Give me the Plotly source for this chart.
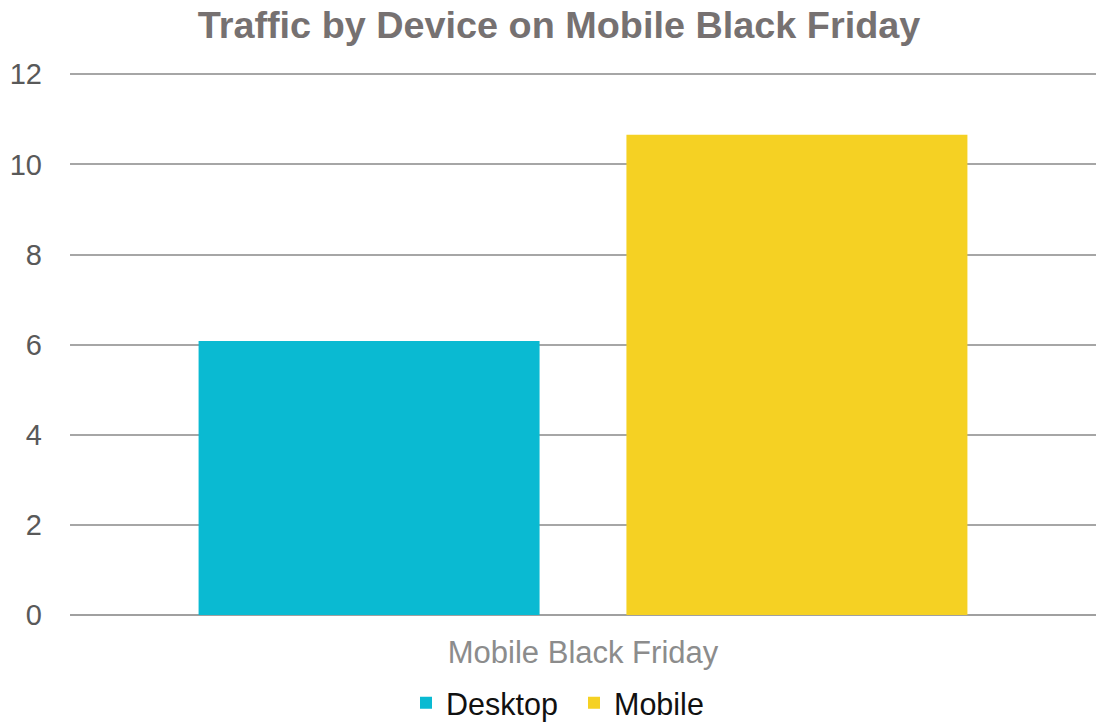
import plotly.graph_objects as go

categories = ["Mobile Black Friday"]
desktop_values = [6.08]
mobile_values = [10.66]
series_names = ["Desktop", "Mobile"]
series_colors = ["#0ABAD2", "#F5D123"]
y_ticks = [0, 2, 4, 6, 8, 10, 12]

fig = go.Figure()
fig.add_trace(go.Bar(x=categories, y=desktop_values, name=series_names[0],
                     marker=dict(color=series_colors[0], line=dict(width=0))))
fig.add_trace(go.Bar(x=categories, y=mobile_values, name=series_names[1],
                     marker=dict(color=series_colors[1], line=dict(width=0))))

fig.update_layout(
    width=1096, height=725,
    paper_bgcolor="white", plot_bgcolor="white",
    margin=dict(l=70, r=0, t=71.7, b=110),
    barmode="group", bargap=0.166, bargroupgap=0.203,
    font=dict(family="Liberation Sans, Arial, sans-serif"),
    title=dict(text="<b>Traffic by Device on Mobile Black Friday</b>",
               font=dict(size=37.8, color="#767171", family="Liberation Sans, Arial, sans-serif"),
               x=559 / 1096, xanchor="center", xref="container",
               y=1 - 25 / 725, yanchor="middle", yref="container"),
    showlegend=True,
    legend=dict(orientation="h", x=406 / 1096, xanchor="left", xref="container",
                y=22 / 725, yanchor="middle", yref="container",
                font=dict(size=30.5, color="#111111"), itemwidth=30,
                entrywidth=123, entrywidthmode="pixels",
                traceorder="normal"),
    xaxis=dict(showgrid=False, showline=False, zeroline=False,
               ticks="", tickfont=dict(size=31, color="#8C8C8C"),
               ticklabelstandoff=16),
    yaxis=dict(range=[0, 12.05], tickvals=y_ticks, showgrid=True,
               gridcolor="#A6A6A6", gridwidth=2, zeroline=True,
               zerolinecolor="#A0A0A0", zerolinewidth=2, showline=False,
               ticks="", tickfont=dict(size=29, color="#595959"),
               ticklabelstandoff=27),
)

fig.write_html("out.html", config={"displayModeBar": False},
               post_script="document.body.style.margin='0';document.body.style.overflow='hidden';")
